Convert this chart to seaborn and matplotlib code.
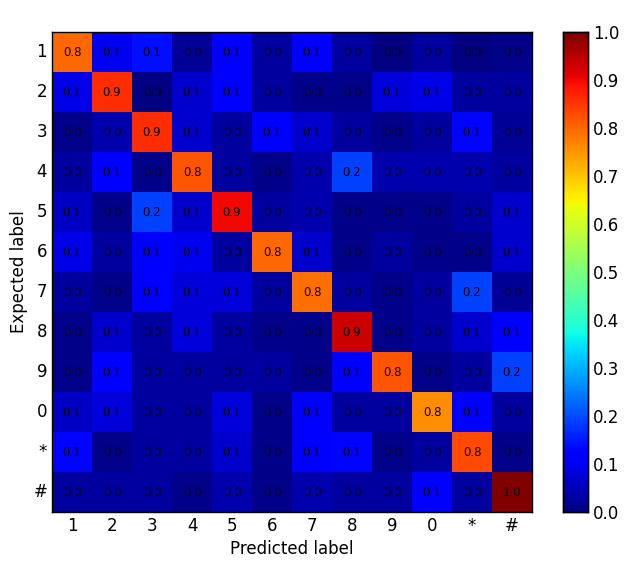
import numpy as np
import pandas as pd
import seaborn as sns
import matplotlib
matplotlib.use("Agg")
import matplotlib.pyplot as plt

# %% --------------------------------------------------------------------
# Data: normalised confusion matrix

labels = ['1', '2', '3', '4', '5', '6', '7', '8', '9', '0', '*', '#']

row_1 = [0.80, 0.10, 0.14, 0.02, 0.11, 0.03, 0.11, 0.03, 0.00, 0.03, 0.00, 0.01]
row_2 = [0.09, 0.86, 0.00, 0.07, 0.11, 0.03, 0.01, 0.01, 0.08, 0.09, 0.03, 0.03]
row_3 = [0.01, 0.04, 0.86, 0.07, 0.03, 0.12, 0.07, 0.03, 0.01, 0.03, 0.13, 0.02]
row_4 = [0.03, 0.12, 0.01, 0.82, 0.03, 0.01, 0.04, 0.19, 0.04, 0.04, 0.04, 0.03]
row_5 = [0.06, 0.01, 0.19, 0.07, 0.90, 0.03, 0.04, 0.01, 0.01, 0.01, 0.03, 0.07]
row_6 = [0.09, 0.03, 0.12, 0.10, 0.03, 0.80, 0.07, 0.01, 0.03, 0.01, 0.01, 0.07]
row_7 = [0.03, 0.01, 0.12, 0.08, 0.08, 0.03, 0.79, 0.03, 0.01, 0.03, 0.19, 0.02]
row_8 = [0.01, 0.07, 0.03, 0.08, 0.03, 0.01, 0.01, 0.93, 0.01, 0.03, 0.07, 0.12]
row_9 = [0.01, 0.12, 0.03, 0.03, 0.03, 0.03, 0.01, 0.11, 0.82, 0.01, 0.03, 0.19]
row_0 = [0.06, 0.08, 0.03, 0.03, 0.08, 0.01, 0.11, 0.03, 0.03, 0.76, 0.12, 0.03]
row_star = [0.13, 0.01, 0.03, 0.03, 0.07, 0.01, 0.11, 0.13, 0.01, 0.03, 0.83, 0.01]
row_hash = [0.03, 0.03, 0.03, 0.01, 0.04, 0.01, 0.04, 0.03, 0.03, 0.12, 0.03, 1.00]

cm = pd.DataFrame([row_1, row_2, row_3, row_4, row_5, row_6, row_7,
                   row_8, row_9, row_0, row_star, row_hash],
                  index=labels, columns=labels)

# %% --------------------------------------------------------------------
# Plot

sns.set_style("white", rc={'axes.edgecolor': 'black', 'text.color': 'black',
                           'axes.labelcolor': 'black', 'xtick.color': 'black',
                           'ytick.color': 'black'})
plt.rcParams['font.family'] = ['DejaVu Sans']

fig = plt.figure(figsize=(6.26, 5.70), dpi=100)
ax = fig.add_axes([52 / 626, 58 / 570, 480 / 626, 480 / 570])
cax = fig.add_axes([563 / 626, 58 / 570, 25 / 626, 480 / 570])

sns.heatmap(cm, ax=ax, cbar_ax=cax, cmap='jet', vmin=0, vmax=1,
            annot=True, fmt='.1f', annot_kws={'color': 'black', 'fontsize': 8.5},
            cbar_kws={'ticks': np.arange(0, 1.01, 0.1), 'format': '%.1f'})

# classic matplotlib look: black frame, inward ticks on all sides
for spine in ax.spines.values():
    spine.set_visible(True)
    spine.set_color('black')
    spine.set_linewidth(1.0)
ax.tick_params(axis='both', which='major', direction='in', length=4, width=0.8,
               top=True, right=True, bottom=True, left=True,
               labelsize=12, color='black', labelcolor='black')
ax.set_yticklabels(labels, rotation=0)
ax.set_xticklabels(labels, rotation=0)
ax.set_xlabel('Predicted label', fontsize=12)
ax.set_ylabel('Expected label', fontsize=12)

cax.tick_params(direction='in', length=4, width=0.8, labelsize=12, right=True,
                color='black', labelcolor='black')
for spine in cax.spines.values():
    spine.set_visible(True)
    spine.set_color('black')
    spine.set_linewidth(1.0)

fig.savefig('out.png', dpi=100)
